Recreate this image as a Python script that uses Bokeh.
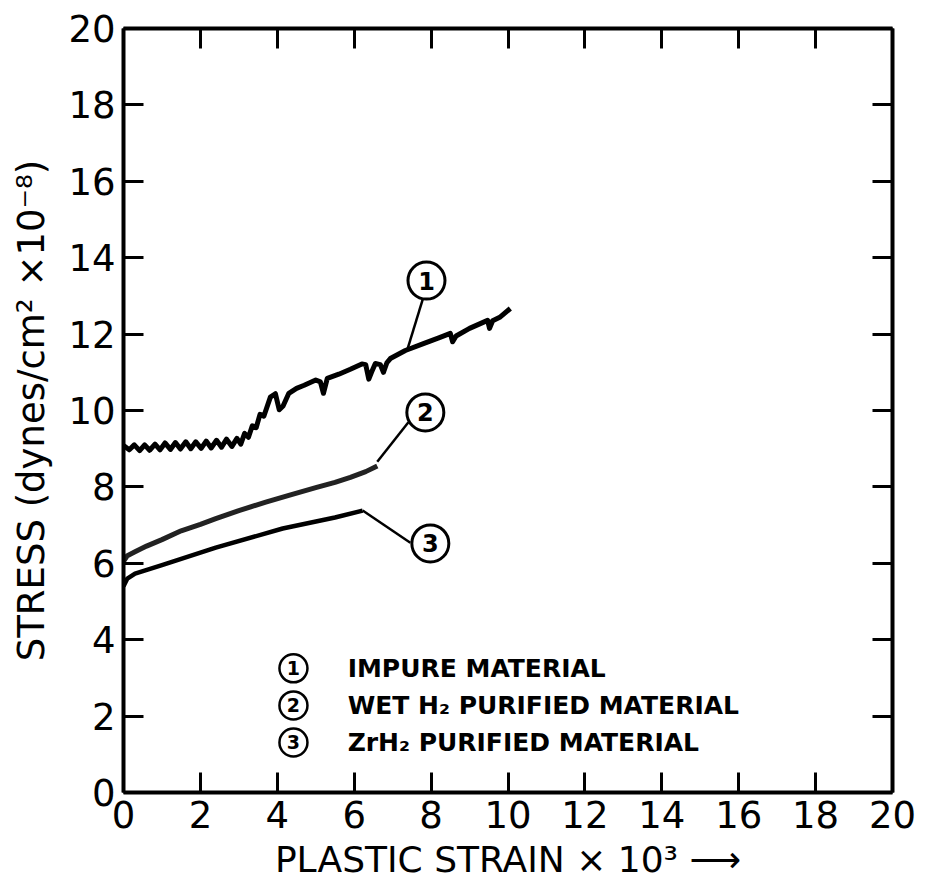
from bokeh.plotting import figure
from bokeh.models import LinearAxis, FixedTicker, Range1d
from bokeh.core.properties import value
from bokeh.embed import file_html
from bokeh.resources import INLINE

# ---------------- data ----------------
x_ticks = [0, 2, 4, 6, 8, 10, 12, 14, 16, 18, 20]
y_ticks = [0, 2, 4, 6, 8, 10, 12, 14, 16, 18, 20]

# curve 1: impure material
impure_x = [0.0, 0.15, 0.28, 0.42, 0.55, 0.68, 0.82, 0.95, 1.08, 1.22, 1.35, 1.48,
            1.62, 1.75, 1.88, 2.02, 2.15, 2.28, 2.42, 2.55, 2.68, 2.82, 2.95, 3.05,
            3.15, 3.25, 3.35, 3.45, 3.55, 3.65, 3.82, 3.95, 4.05, 4.15, 4.3, 4.5,
            4.7, 5.0, 5.12, 5.2, 5.3, 5.6, 5.9, 6.2, 6.3, 6.38, 6.45, 6.55, 6.68,
            6.76, 6.85, 6.94, 7.33, 7.8, 8.2, 8.5, 8.56, 8.65, 9.0, 9.47, 9.52,
            9.6, 9.8, 10.06]
impure_y = [9.08, 8.97, 9.1, 8.95, 9.1, 8.96, 9.12, 8.97, 9.15, 8.98, 9.16, 8.99,
            9.18, 9.0, 9.18, 9.01, 9.2, 9.02, 9.22, 9.04, 9.25, 9.06, 9.27, 9.12,
            9.4, 9.3, 9.6, 9.55, 9.9, 9.85, 10.35, 10.44, 10.02, 10.12, 10.45, 10.58,
            10.66, 10.8, 10.75, 10.45, 10.84, 10.95, 11.08, 11.22, 11.2, 10.82, 11.0, 11.23, 11.2,
            11.0, 11.25, 11.36, 11.57, 11.75, 11.9, 12.02, 11.8, 11.95, 12.15, 12.36, 12.15,
            12.35, 12.45, 12.67]

# curve 2: wet H2 purified material
wet_x = [0.0, 0.1, 0.3, 0.6, 1.0, 1.5, 2.0, 2.4, 3.0, 3.7, 4.3, 5.0, 5.5, 5.9, 6.3, 6.6]
wet_y = [6.05, 6.2, 6.3, 6.45, 6.62, 6.85, 7.02, 7.17, 7.38, 7.6, 7.78, 7.98, 8.12, 8.25, 8.4, 8.55]

# curve 3: ZrH2 purified material
zr_x = [0.0, 0.1, 0.3, 1.0, 2.4, 4.14, 5.5, 6.22]
zr_y = [5.4, 5.6, 5.73, 5.95, 6.41, 6.91, 7.2, 7.38]

# numbered callouts
label_nums = ["1", "2", "3"]
label_x = [7.88, 7.85, 7.98]
label_y = [13.4, 9.95, 6.52]
leader_curve_x = [7.39, 6.6, 6.22]
leader_curve_y = [11.62, 8.66, 7.38]
leader_circle_x = [7.78, 7.41, 7.46]
leader_circle_y = [12.9, 9.69, 6.54]

# legend
legend_nums = ["1", "2", "3"]
legend_texts = ["IMPURE MATERIAL", "WET H\u2082 PURIFIED MATERIAL", "ZrH\u2082 PURIFIED MATERIAL"]
legend_mark_x = [4.42, 4.42, 4.42]
legend_text_x = [5.83, 5.83, 5.83]
legend_y = [3.25, 2.28, 1.31]

FONT = "DejaVu Sans"

p = figure(width=934, height=893, x_range=Range1d(0, 20), y_range=Range1d(0, 20),
           output_backend="svg", toolbar_location=None,
           min_border_left=123, min_border_right=42, min_border_top=28, min_border_bottom=101,
           x_axis_label="PLASTIC STRAIN \u00d7 10\u00b3 \u27f6",
           y_axis_label="STRESS (dynes/cm\u00b2 \u00d710\u207b\u2078)")
p.background_fill_color = "white"
p.border_fill_color = "white"
p.outline_line_color = None
p.xgrid.grid_line_color = None
p.ygrid.grid_line_color = None

bottom = p.below[0]
left = p.left[0]
top = LinearAxis()
right = LinearAxis()
p.add_layout(top, "above")
p.add_layout(right, "right")

for ax, ticks in ((bottom, x_ticks), (left, y_ticks), (top, x_ticks), (right, y_ticks)):
    ax.ticker = FixedTicker(ticks=ticks)
    ax.axis_line_width = 4
    ax.axis_line_color = "black"
    ax.major_tick_in = 20
    ax.major_tick_out = 0
    ax.major_tick_line_width = 3
    ax.major_tick_line_color = "black"
    ax.minor_tick_line_color = None
    ax.major_label_text_font = FONT
    ax.major_label_text_font_size = "37px"
    ax.major_label_text_color = "black"
    ax.major_label_standoff = 8

for ax, ticks in ((top, x_ticks), (right, y_ticks)):
    ax.major_label_overrides = {t: "" for t in ticks}
    ax.major_label_text_font_size = "1px"
    ax.major_label_standoff = 0

for ax in (bottom, left):
    ax.axis_label_text_font = FONT
    ax.axis_label_text_font_style = "normal"
    ax.axis_label_text_color = "black"
bottom.axis_label_text_font_size = "36px"
bottom.axis_label_standoff = 8
left.axis_label_text_font_size = "37px"
left.axis_label_standoff = 12

# curves
p.line(impure_x, impure_y, line_color="black", line_width=5, line_join="round")
p.line(wet_x, wet_y, line_color="#222222", line_width=5, line_join="round")
p.line(zr_x, zr_y, line_color="black", line_width=4.5, line_join="round")

# leader lines and callouts
p.segment(x0=leader_curve_x, y0=leader_curve_y, x1=leader_circle_x, y1=leader_circle_y,
          line_color="black", line_width=2.5)
p.scatter(label_x, label_y, marker="circle", size=37, fill_color="white",
          line_color="black", line_width=3)
p.text(label_x, label_y, text=label_nums, text_font=value(FONT), text_font_size=value("24px"),
       text_font_style="bold", text_align="center", text_baseline="middle", text_color="black")

# legend
p.scatter(legend_mark_x, legend_y, marker="circle", size=28, fill_color="white",
          line_color="black", line_width=2.5)
p.text(legend_mark_x, legend_y, text=legend_nums, text_font=value(FONT), text_font_size=value("19px"),
       text_font_style="bold", text_align="center", text_baseline="middle", text_color="black")
p.text(legend_text_x, legend_y, text=legend_texts, text_font=value(FONT), text_font_size=value("25px"),
       text_font_style="bold", text_align="left", text_baseline="middle", text_color="black")

open("out.html", "w").write(file_html(p, INLINE))
